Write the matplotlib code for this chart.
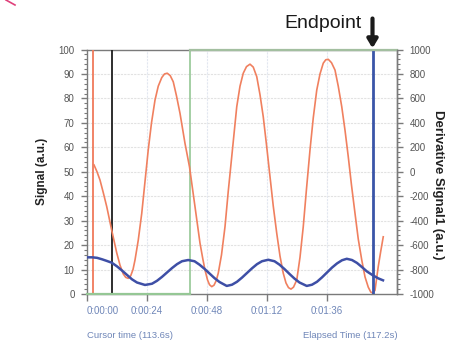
import matplotlib
matplotlib.use("Agg")
import matplotlib.pyplot as plt
from matplotlib.lines import Line2D
from matplotlib.ticker import MultipleLocator

plt.rcParams['font.family'] = ['Liberation Sans', 'DejaVu Sans']
plt.rcParams['axes.unicode_minus'] = False

# ---- data ----
signal_t = [2.8, 4.0, 5.2, 6.5, 7.9, 9.9, 11.9, 13.2, 14.5, 15.5, 16.5, 17.5, 18.4, 19.2,
            20.5, 21.9, 23.2, 24.5, 25.8, 27.2, 28.5, 29.9, 31.0, 32.1, 33.3, 34.5, 35.8,
            37.2, 39.2, 41.0, 43.2, 45.2, 46.3, 47.2, 48.2, 49.0, 49.9, 50.8, 51.7, 52.5,
            53.8, 55.2, 56.5, 57.9, 59.9, 61.2, 62.5, 63.8, 65.2, 66.5, 67.9, 69.2, 70.5,
            71.8, 73.2, 74.5, 75.9, 77.2, 78.5, 79.6, 80.6, 81.6, 82.6, 83.9, 85.2, 86.5,
            87.8, 89.2, 90.5, 91.9, 93.2, 94.5, 95.5, 96.5, 97.8, 99.2, 100.5, 101.9,
            103.2, 104.5, 105.8, 107.2, 108.5, 109.9, 111.2, 112.5, 113.5, 114.3, 115.2,
            116.5, 117.5, 118.5]
signal_v = [52.8, 50.0, 46.6, 41.5, 35.7, 26.0, 16.8, 11.8, 8.2, 6.8, 6.4, 7.5, 10.0, 13.9,
            22.0, 33.0, 46.0, 59.0, 70.0, 79.3, 85.0, 88.5, 90.0, 90.3, 89.3, 86.8, 81.0,
            73.9, 61.6, 52.0, 35.7, 20.8, 14.5, 9.8, 5.8, 3.8, 3.0, 3.6, 5.5, 8.5,
            16.0, 27.5, 42.0, 56.2, 76.6, 85.0, 90.3, 93.0, 94.0, 92.8, 88.9, 81.5, 72.5,
            61.0, 48.0, 36.0, 24.8, 15.5, 8.5, 4.5, 2.6, 2.0, 2.8, 5.7, 15.0, 27.5,
            43.0, 58.9, 72.0, 83.4, 90.0, 94.4, 95.8, 96.0, 94.6, 91.6, 85.0, 76.6,
            67.0, 56.2, 44.5, 33.0, 22.5, 13.9, 7.0, 2.8, 0.8, 0.4, 1.5,
            11.2, 17.5, 23.4]

deriv_t = [0, 2, 4, 6, 8, 9.9, 12, 14, 16, 18, 20, 23.2, 26, 28, 30, 32, 34, 36, 38, 40.5,
           43, 45, 47, 49, 51, 53, 55.9, 58, 60, 62, 64, 66, 68, 70, 72.5, 75, 77, 79,
           81, 83, 85, 87.9, 90, 92, 94, 96, 98, 100, 102, 103.9, 106, 108, 110, 112,
           114.4, 116.5, 118.4]
deriv_v = [-700, -700, -704, -716, -730, -744, -774, -808, -844, -880, -906, -926, -916,
           -892, -860, -824, -788, -756, -732, -722, -732, -760, -794, -832, -870, -902,
           -934, -924, -900, -866, -828, -790, -756, -732, -720, -732, -760, -796, -836,
           -874, -906, -934, -924, -900, -864, -824, -784, -750, -724, -712, -722, -746,
           -780, -816, -848, -872, -888]

x_ticks = [0, 24, 48, 72, 96]
x_labels = ["0:00:00", "0:00:24", "0:00:48", "0:01:12", "0:01:36"]
left_ticks = [0, 10, 20, 30, 40, 50, 60, 70, 80, 90, 100]
right_ticks = [-1000, -800, -600, -400, -200, 0, 200, 400, 600, 800, 1000]

red_marker_t = 2.4
cursor_t = 9.9
green_t = 41.0
endpoint_t = 114.2

# ---- figure ----
W, H = 462, 348
fig = plt.figure(figsize=(W / 100, H / 100), dpi=100)
L, R, T, B = 87, 397, 49.5, 294
ax = fig.add_axes([L / W, 1 - B / H, (R - L) / W, (B - T) / H])
ax2 = ax.twinx()

frame_c = "#7a7a7a"
label_c = "#555555"
blue_txt = "#6f86b8"

ax.set_xlim(0, 124)
ax.set_ylim(0, 100)
ax2.set_ylim(-1000, 1000)

# grid
for y in left_ticks[1:-1]:
    ax.axhline(y, color="#e2e2e2", lw=0.8, ls=(0, (2, 1)), zorder=0)
for x in x_ticks[1:]:
    ax.axvline(x, color="#e2e7f0", lw=0.8, ls=(0, (2, 1)), zorder=0)

# vertical markers
ax.axvline(red_marker_t, color="#f07a5a", lw=1.3, zorder=3)
ax.axvline(cursor_t, color="#1e1e1e", lw=1.3, zorder=3)
ax.axvline(green_t, color="#95c795", lw=1.2, zorder=3)
ax.axvline(endpoint_t, color="#3a55a8", lw=2.0, zorder=5)

ax.plot(signal_t, signal_v, color="#f0805f", lw=1.2, zorder=4)
ax2.plot(deriv_t, deriv_v, color="#3e4fa6", lw=1.8, zorder=4)

# spines
for s in ax.spines.values():
    s.set_color(frame_c)
    s.set_linewidth(1.0)
for name, s in ax2.spines.items():
    s.set_visible(name == "right")
    s.set_color(frame_c)
    s.set_linewidth(1.0)
# green box segments
ax.plot([0, green_t], [0, 0], color="#95c795", lw=1.6, clip_on=False, zorder=6)
ax.plot([green_t, 124], [100, 100], color="#a3bfa0", lw=1.6, clip_on=False, zorder=6)

# ticks
ax.set_xticks(x_ticks)
ax.set_xticklabels(x_labels)
ax.tick_params(axis="x", direction="out", length=5, width=1, color=frame_c,
               labelsize=7, labelcolor=blue_txt, pad=4)
ax.get_xticklabels()[0].set_horizontalalignment("left")
ax.set_yticks(left_ticks)
ax.yaxis.set_minor_locator(MultipleLocator(2))
ax.tick_params(axis="y", which="major", direction="out", length=4, width=1,
               color=frame_c, labelsize=7, labelcolor=label_c, pad=5)
ax.tick_params(axis="y", which="minor", direction="out", length=2.2, width=0.8,
               color=frame_c)
ax2.set_yticks(right_ticks)
ax2.yaxis.set_minor_locator(MultipleLocator(40))
ax2.tick_params(axis="y", which="major", direction="out", length=4, width=1,
                color=frame_c, labelsize=7, labelcolor=label_c, pad=5)
ax2.tick_params(axis="y", which="minor", direction="out", length=2.2, width=0.8,
                color=frame_c)

# axis labels
fig.text(42 / W, 1 - 171 / H, "Signal (a.u.)", rotation=90, ha="center", va="center",
         fontsize=8.5, fontweight="bold", color="#222222")
fig.text(437.5 / W, 1 - 185 / H, "Derivative Signal1 (a.u.)", rotation=-90, ha="center",
         va="center", fontsize=9.5, fontweight="bold", color="#222222")

# bottom texts
fig.text(87 / W, 1 - 336 / H, "Cursor time (113.6s)", ha="left", va="center",
         fontsize=6.8, color=blue_txt)
fig.text(398 / W, 1 - 336 / H, "Elapsed Time (117.2s)", ha="right", va="center",
         fontsize=6.8, color=blue_txt)

# Endpoint annotation
fig.text(362 / W, 1 - 23 / H, "Endpoint", ha="right", va="center", fontsize=14,
         color="#1a1a1a")
ax.annotate("", xy=(endpoint_t, 100.5), xycoords="data",
            xytext=(endpoint_t, 100 + 31 / 2.445), textcoords="data",
            arrowprops=dict(arrowstyle="-|>,head_length=0.5,head_width=0.3",
                            lw=3, color="#1a1a1a", shrinkA=0, shrinkB=0),
            annotation_clip=False)

# small pink stroke in top-left corner
fig.add_artist(Line2D([6 / W, 15 / W], [1.0, 1 - 5 / H], color="#e0407a", lw=1.2,
                      transform=fig.transFigure))

fig.savefig("out.png", dpi=100)
